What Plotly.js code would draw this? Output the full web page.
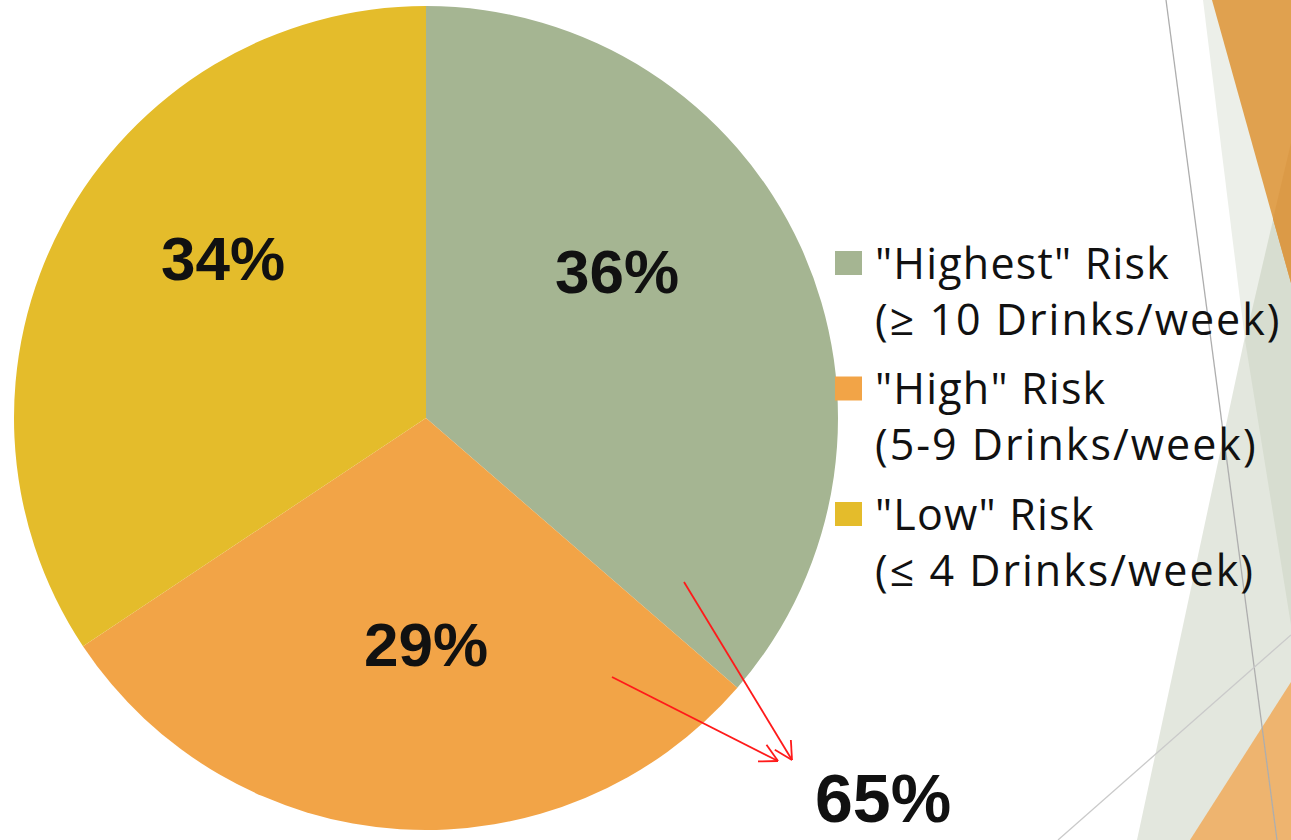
<!DOCTYPE html>
<html>
<head>
<meta charset="utf-8">
<script src="https://cdn.plot.ly/plotly-3.0.1.min.js"></script>
<style>html,body{margin:0;padding:0;background:#fff;}#chart{width:1291px;height:840px;}</style>
</head>
<body>
<div id="chart"></div>
<script>
// ---- data ----
const categories = ['"Highest" Risk', '"High" Risk', '"Low" Risk'];
const ranges = ['(≥ 10 Drinks/week)', '(5-9 Drinks/week)', '(≤ 4 Drinks/week)'];
const shares = [36, 29, 34];
const combinedLabel = '65%';

// ---- styles ----
const sliceColors = ['#A5B592', '#F2A447', '#E4BC2B'];
const W = 1291, H = 840;
const px = x => x / W;
const py = y => 1 - y / H;

const pieTrace = {
  type: 'pie',
  labels: categories,
  values: shares,
  sort: false,
  direction: 'clockwise',
  rotation: 0,
  marker: { colors: sliceColors, line: { width: 0 } },
  textinfo: 'none',
  hoverinfo: 'label+value',
  showlegend: false,
  domain: { x: [px(14), px(838)], y: [py(830), py(6)] }
};

// slice label placements (pixels)
const labelPix = [[617, 272], [426, 644], [223, 258]];

const annotations = [];
shares.forEach((v, i) => {
  annotations.push({
    xref: 'paper', yref: 'paper', x: px(labelPix[i][0]), y: py(labelPix[i][1]),
    xanchor: 'center', yanchor: 'middle', showarrow: false,
    text: '<b>' + v + '%</b>',
    font: { family: 'Liberation Sans, Arial, sans-serif', size: 62, color: '#111111' }
  });
});

const shapes = [];
function poly(pts, fill) {
  const d = pts.map((p, k) => (k ? 'L' : 'M') + px(p[0]) + ',' + py(p[1])).join(' ') + ' Z';
  shapes.push({ type: 'path', xref: 'paper', yref: 'paper', path: d, fillcolor: fill, line: { width: 0 }, layer: 'below' });
}
function seg(a, b, color, w) {
  shapes.push({ type: 'line', xref: 'paper', yref: 'paper', x0: px(a[0]), y0: py(a[1]), x1: px(b[0]), y1: py(b[1]),
    line: { color: color, width: w }, layer: 'below' });
}

// background decorations (theme facets)
poly([[1137, 840], [1291, 840], [1291, 122]], '#E3E7DE');
poly([[1203, 0], [1291, 0], [1291, 200], [1245, 340]], '#ECEFE9');
poly([[1291, 143], [1245, 340], [1291, 625]], '#D7DDD0');
poly([[1212, 0], [1291, 0], [1291, 283]], '#E0A14F');
poly([[1291, 143], [1273, 219], [1291, 283]], '#DB9A47');
poly([[1190, 840], [1291, 840], [1291, 682]], '#EEB46F');
seg([1166, 0], [1277, 840], '#AEAEAE', 1.3);
seg([1058, 840], [1291, 635], '#CACACA', 1.3);

// legend (manual, to match big square keys)
const legendTop = 251, legendStep = 125.5;
categories.forEach((c, i) => {
  const y0 = legendTop + i * legendStep;
  shapes.push({ type: 'rect', xref: 'paper', yref: 'paper', x0: px(835), x1: px(862), y0: py(y0), y1: py(y0 + 24),
    fillcolor: sliceColors[i], line: { width: 0 } });
  annotations.push({
    xref: 'paper', yref: 'paper', x: px(873), y: py(y0 + 39),
    xanchor: 'left', yanchor: 'middle', align: 'left', showarrow: false,
    text: '<span style="letter-spacing:1.2px">' + c + '</span><br><span style="letter-spacing:2px">' + ranges[i] + '</span>',
    font: { family: 'Open Sans, sans-serif', size: 43, color: '#111111' }
  });
});

// red arrows
function arrow(a, b) {
  shapes.push({ type: 'line', xref: 'paper', yref: 'paper', x0: px(a[0]), y0: py(a[1]), x1: px(b[0]), y1: py(b[1]),
    line: { color: '#FF1A1A', width: 1.8 } });
  const dx = a[0] - b[0], dy = a[1] - b[1], L = Math.hypot(dx, dy);
  const ux = dx / L, uy = dy / L, len = 20, ang = 28 * Math.PI / 180;
  [ang, -ang].forEach(t => {
    const rx = ux * Math.cos(t) - uy * Math.sin(t), ry = ux * Math.sin(t) + uy * Math.cos(t);
    shapes.push({ type: 'line', xref: 'paper', yref: 'paper', x0: px(b[0]), y0: py(b[1]), x1: px(b[0] + rx * len), y1: py(b[1] + ry * len),
      line: { color: '#FF1A1A', width: 1.8 } });
  });
}
arrow([684, 582], [792, 760]);
arrow([612, 677], [778, 761]);

annotations.push({
  xref: 'paper', yref: 'paper', x: px(883), y: py(838),
  xanchor: 'center', yanchor: 'bottom', showarrow: false,
  text: '<b>' + combinedLabel + '</b>',
  font: { family: 'Liberation Sans, Arial, sans-serif', size: 68, color: '#111111' }
});

const layout = {
  width: W, height: H,
  margin: { l: 0, r: 0, t: 0, b: 0 },
  paper_bgcolor: '#FFFFFF',
  showlegend: false,
  shapes: shapes,
  annotations: annotations
};

Plotly.newPlot('chart', [pieTrace], layout, { displayModeBar: false, staticPlot: true });
</script>
</body>
</html>
